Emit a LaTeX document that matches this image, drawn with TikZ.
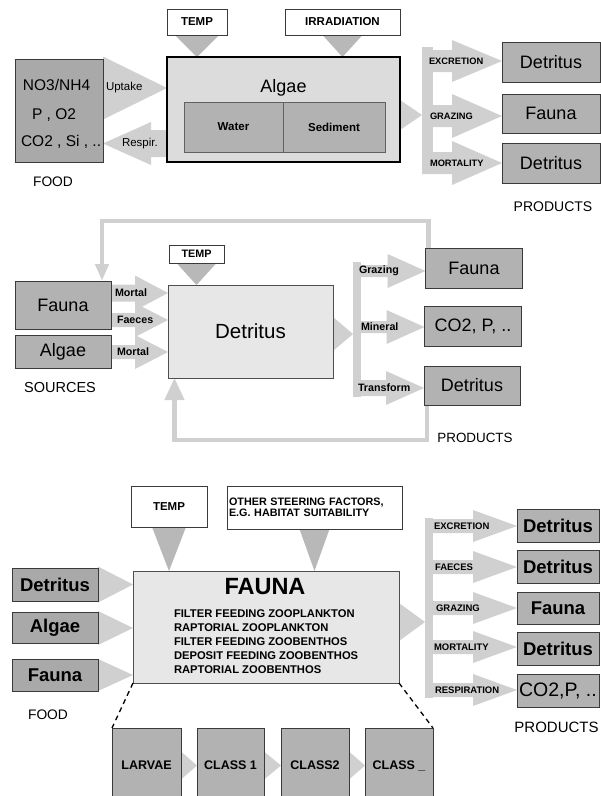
\documentclass[tikz,border=0pt]{standalone}
\usepackage{fontspec}
\setmainfont{Liberation Sans}
\usetikzlibrary{calc,arrows.meta}

\definecolor{flowgrey}{HTML}{D0D0D0}
\definecolor{steergrey}{HTML}{B8B8B8}
\definecolor{boxgrey}{HTML}{B2B2B2}
\definecolor{darkbox}{HTML}{A9A9A9}
\definecolor{palebox}{HTML}{E7E7E7}
\definecolor{algaefill}{HTML}{DCDCDC}
\definecolor{edge}{HTML}{3A3A3A}
\definecolor{loopgrey}{HTML}{D0D0D0}

\newcommand\fsz[1]{\fontsize{#1}{#1}\selectfont}

% block arrow: [style]{tail}{tip}{shaft half-width}{head half-width}{head length}
\newcommand\flowarrow[6][]{%
  \coordinate (fa-t) at (#2);
  \coordinate (fa-p) at (#3);
  \coordinate (fa-h) at ($(fa-p)!#6!(fa-t)$);
  \fill[flow,#1] ($(fa-t)!#4!90:(fa-h)$) -- ($(fa-h)!#4!-90:(fa-t)$)
    -- ($(fa-h)!#5!-90:(fa-t)$) -- (fa-p) -- ($(fa-h)!#5!90:(fa-t)$)
    -- ($(fa-h)!#4!90:(fa-t)$) -- ($(fa-t)!#4!-90:(fa-h)$) -- cycle;
}
% triangular arrow head: [style]{base centre}{tip}{half-width}
\newcommand\headarrow[4][]{%
  \coordinate (ha-b) at (#2);
  \coordinate (ha-p) at (#3);
  \fill[flow,#1] ($(ha-b)!#4!90:(ha-p)$) -- (ha-p) -- ($(ha-b)!#4!-90:(ha-p)$) -- cycle;
}

\pgfdeclarelayer{paper}
\pgfdeclarelayer{flows}
\pgfsetlayers{paper,flows,main}

\tikzset{
  base/.style={inner sep=0pt, outer sep=0pt},
  sized/.style 2 args={minimum width=#1pt, minimum height=#2pt},
  unit/.style={base, draw=edge, line width=0.8pt, fill=boxgrey},
  inner/.style={base, draw=edge!80, line width=0.7pt, fill=boxgrey},
  steer/.style={base, draw=edge, line width=0.8pt, fill=white},
  pool/.style={base, draw=edge!90, line width=0.9pt, fill=palebox},
  bus/.style={base, fill=flowgrey},
  tag/.style={base, anchor=west},
  flow/.style={fill=flowgrey},
  steerflow/.style={fill=steergrey},
  loopline/.style={draw=loopgrey, line width=4.5pt},
  zoomline/.style={draw=black, line width=1.3pt, dash pattern=on 5pt off 4pt},
}

\begin{document}
\begin{tikzpicture}[x=1pt, y=-1pt]
\begin{pgfonlayer}{paper}
  \path[fill=white] (0,0) rectangle (601,796);
\end{pgfonlayer}
\useasboundingbox (0,0) rectangle (601,796);

% ---------------- algae module ----------------
\node[steer, sized={60}{26}] (temp1) at (197,22) {\fsz{11.5}\bfseries TEMP};
\node[steer, sized={115}{26}] (irr) at (342.5,22) {\fsz{11.5}\bfseries IRRADIATION};
\node[base, draw=black, line width=2.5pt, fill=algaefill, sized={233}{105}] (algae) at (283.5,109.5) {};
\node[base] (algaetitle) at (283.5,88) {\fsz{18}Algae};
\node[inner, sized={99}{50}] (water) at (233.5,127) {\fsz{11.5}\bfseries Water};
\node[inner, sized={102}{50}] (sediment) at (334,127) {\fsz{11.5}\bfseries Sediment};

\node[unit, fill=darkbox, sized={88}{103}] (food1) at (59,110.5) {};
\node[tag] (n1) at (23,85) {\fsz{15.5}NO3/NH4};
\node[tag] (n2) at (32,115) {\fsz{15.5}P , O2};
\node[tag] (n3) at (21,142) {\fsz{15.5}CO2 , Si , ..};
\node[base] (foodlbl1) at (53,182) {\fsz{13.8}FOOD};

\node[tag] (upt) at (106,88) {\fsz{11.5}Uptake};
\node[tag] (resp) at (122,143.5) {\fsz{11.5}Respir.};

\node[bus, sized={11}{125}] (bus1) at (427.5,109.5) {};
\node[unit, sized={98}{40}] (p1a) at (551,62) {\fsz{18}Detritus};
\node[unit, sized={98}{39}] (p1b) at (551,113.5) {\fsz{18}Fauna};
\node[unit, sized={98}{40}] (p1c) at (551,163) {\fsz{18}Detritus};
\node[tag] (lex1) at (429,61) {\fsz{9.3}\bfseries EXCRETION};
\node[tag] (lgr1) at (430,116) {\fsz{9.3}\bfseries GRAZING};
\node[tag] (lmo1) at (430,163) {\fsz{9.3}\bfseries MORTALITY};
\node[base] (prodlbl1) at (553,207) {\fsz{14}PRODUCTS};

% ---------------- detritus module ----------------
\node[steer, sized={55}{18}] (temp2) at (196.5,254) {\fsz{10.8}\bfseries TEMP};
\node[pool, sized={165}{93}] (det2) at (250.5,331.5) {\fsz{20.5}Detritus};
\node[unit, sized={96}{48}] (srcfauna) at (63,305) {\fsz{18}Fauna};
\node[unit, sized={96}{33}] (srcalgae) at (63,351.5) {\fsz{18}Algae};
\node[base] (srclbl) at (60,388) {\fsz{14.5}SOURCES};
\node[tag] (lmort1) at (115,293) {\fsz{10.7}\bfseries Mortal};
\node[tag] (lfaec) at (117,320) {\fsz{10.7}\bfseries Faeces};
\node[tag] (lmort2) at (117,352) {\fsz{10.7}\bfseries Mortal};

\node[bus, sized={8}{135}] (bus2) at (357,329.5) {};
\node[unit, sized={97}{40}] (p2a) at (474,268) {\fsz{18}Fauna};
\node[unit, sized={97}{40}] (p2b) at (473,326) {\fsz{18}CO2, P, ..};
\node[unit, sized={96}{39}] (p2c) at (472,385.5) {\fsz{18}Detritus};
\node[tag] (lgr2) at (359,271) {\fsz{10.7}\bfseries Grazing};
\node[tag] (lmin2) at (361,327) {\fsz{10.7}\bfseries Mineral};
\node[tag] (ltr2) at (358,388) {\fsz{10.7}\bfseries Transform};
\node[base] (prodlbl2) at (475,438) {\fsz{13.4}PRODUCTS};

\coordinate (looptop) at (250,221);
\coordinate (loopbot) at (300,440);
\coordinate (loopa) at ($(p2a.north west)+(3,0)$);
\coordinate (loopb) at ($(srcfauna.north east)+(-9,0)$);
\coordinate (loopc) at ($(p2c.south west)+(3,0)$);
\coordinate (loopd) at ($(det2.south west)+(6.5,0)$);

% ---------------- fauna module ----------------
\node[steer, sized={76}{41}] (temp3) at (169,506.5) {\fsz{11.5}\bfseries TEMP};
\node[steer, sized={175}{43}, text width=171pt, align=left,
      font={\fontsize{10.8}{11.5}\selectfont\bfseries}] (other) at (314.5,507.5)
  {OTHER STEERING FACTORS,\\E.G. HABITAT SUITABILITY};
\node[pool, sized={266}{112}] (fauna3) at (266,627) {};
\node[base] (fauna3title) at (265,587) {\fsz{23.5}\bfseries FAUNA};
\node[base, anchor=north west, align=left, font={\fontsize{11.2}{14}\selectfont\bfseries}] (groups) at (174,610)
  {FILTER FEEDING ZOOPLANKTON\\RAPTORIAL ZOOPLANKTON\\FILTER FEEDING ZOOBENTHOS\\DEPOSIT FEEDING ZOOBENTHOS\\RAPTORIAL ZOOBENTHOS};

\node[unit, fill=darkbox, sized={86}{33}] (f3det) at (55,584.5) {\fsz{18.5}\bfseries Detritus};
\node[unit, fill=darkbox, sized={86}{31}] (f3alg) at (55,628) {\fsz{18.5}\bfseries Algae};
\node[unit, fill=darkbox, sized={86}{32}] (f3fau) at (55,675) {\fsz{18.5}\bfseries Fauna};
\node[base] (foodlbl3) at (48,715) {\fsz{13.8}FOOD};

\node[bus, sized={8}{180}] (bus3) at (429,608) {};
\node[unit, sized={82}{33}] (p3a) at (558,525.5) {\fsz{18.5}\bfseries Detritus};
\node[unit, sized={82}{33}] (p3b) at (558,566.5) {\fsz{18.5}\bfseries Detritus};
\node[unit, sized={82}{32}] (p3c) at (558,608) {\fsz{18.5}\bfseries Fauna};
\node[unit, sized={82}{33}] (p3d) at (558,648.5) {\fsz{18.5}\bfseries Detritus};
\node[unit, sized={82}{33}] (p3e) at (558,690.5) {};
\node[tag] (p3etext) at (519,690.5) {\fsz{19.5}CO2,P, ..};
\node[tag] (lex3) at (434,526) {\fsz{9.5}\bfseries EXCRETION};
\node[tag] (lfa3) at (435,567) {\fsz{9.5}\bfseries FAECES};
\node[tag] (lgr3) at (436,608) {\fsz{9.5}\bfseries GRAZING};
\node[tag] (lmo3) at (434,647) {\fsz{9.5}\bfseries MORTALITY};
\node[tag] (lre3) at (435,690) {\fsz{9.5}\bfseries RESPIRATION};
\node[base] (prodlbl3) at (556.5,727) {\fsz{15}PRODUCTS};

\node[unit, sized={69}{75}] (larvae) at (146.5,765.5) {\fsz{12.5}\bfseries LARVAE};
\node[unit, sized={67}{75}] (class1) at (230.5,765.5) {\fsz{12.5}\bfseries CLASS 1};
\node[unit, sized={68}{75}] (class2) at (315,765.5) {\fsz{12.5}\bfseries CLASS2};
\node[unit, sized={68}{75}] (classn) at (399,765.5) {\fsz{12.5}\bfseries CLASS \_};

\draw[zoomline] (fauna3.south west) -- (larvae.north west);
\draw[zoomline] (fauna3.south east) -- (classn.north east);

\begin{pgfonlayer}{flows}
  % algae module flows
  \headarrow[steerflow]{temp1.south}{temp1.south |- algae.north}{22pt}
  \headarrow[steerflow]{irr.south}{irr.south |- algae.north}{20pt}
  \headarrow{food1.east |- upt}{algae.west |- upt}{31.5pt}
  \flowarrow{algae.west |- resp}{food1.east |- resp}{13.5pt}{21.5pt}{48pt}
  \coordinate (aout) at ($(algae.east)+(0,5.5)$);
  \headarrow{aout}{aout -| bus1.west}{15pt}
  \flowarrow{bus1.west |- lex1}{p1a.west |- lex1}{11pt}{21pt}{50pt}
  \flowarrow{bus1.west |- lgr1}{p1b.west |- lgr1}{11pt}{22pt}{50pt}
  \flowarrow{bus1.west |- lmo1}{p1c.west |- lmo1}{11pt}{22pt}{50pt}

  % detritus module flows
  \headarrow[steerflow]{temp2.south}{temp2.south |- det2.north}{20pt}
  \flowarrow{srcfauna.east |- lmort1}{det2.west |- lmort1}{8.5pt}{17.5pt}{33pt}
  \flowarrow{srcfauna.east |- lfaec}{det2.west |- lfaec}{7pt}{17pt}{33pt}
  \flowarrow{srcalgae.east |- lmort2}{det2.west |- lmort2}{7pt}{17pt}{33pt}
  \coordinate (dout) at ($(det2.east)+(0,2.5)$);
  \headarrow{dout}{dout -| bus2.west}{17pt}
  \flowarrow{bus2.west |- lgr2}{p2a.west |- lgr2}{6pt}{17pt}{38pt}
  \flowarrow{bus2.west |- lmin2}{p2b.west |- lmin2}{6pt}{17pt}{38pt}
  \flowarrow{bus2.west |- ltr2}{p2c.west |- ltr2}{8pt}{17pt}{38pt}
  \draw[loopline, -{Triangle[width=13pt,length=17pt]}]
    (loopa) -- (loopa |- looptop) -- (loopb |- looptop) -- (loopb);
  \draw[loopline, -{Triangle[width=19pt,length=22pt]}]
    (loopc) -- (loopc |- loopbot) -- (loopd |- loopbot) -- (loopd);

  % fauna module flows
  \headarrow[steerflow]{temp3.south}{temp3.south |- fauna3.north}{17pt}
  \headarrow[steerflow]{other.south}{other.south |- fauna3.north}{15pt}
  \headarrow{f3det.east}{f3det.east -| fauna3.west}{18pt}
  \headarrow{f3alg.east}{f3alg.east -| fauna3.west}{17pt}
  \headarrow{f3fau.east}{f3fau.east -| fauna3.west}{16pt}
  \coordinate (fout) at ($(fauna3.east)+(0,-5)$);
  \headarrow{fout}{fout -| bus3.west}{19pt}
  \flowarrow{bus3.west |- lex3}{p3a.west |- lex3}{7pt}{16pt}{44pt}
  \flowarrow{bus3.west |- lfa3}{p3b.west |- lfa3}{7pt}{16pt}{44pt}
  \flowarrow{bus3.west |- lgr3}{p3c.west |- lgr3}{7pt}{16pt}{44pt}
  \flowarrow{bus3.west |- lmo3}{p3d.west |- lmo3}{7pt}{16pt}{44pt}
  \flowarrow{bus3.west |- lre3}{p3e.west |- lre3}{7pt}{16pt}{44pt}
  \headarrow{larvae.east}{class1.west}{14pt}
  \headarrow{class1.east}{class2.west}{14pt}
  \headarrow{class2.east}{classn.west}{14pt}
\end{pgfonlayer}
\end{tikzpicture}
\end{document}
